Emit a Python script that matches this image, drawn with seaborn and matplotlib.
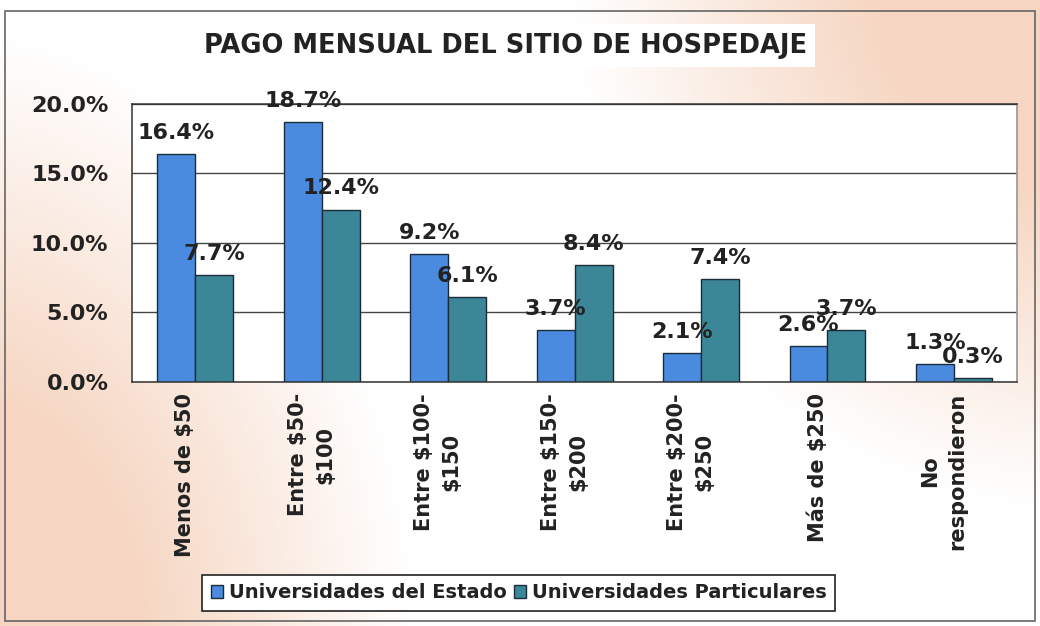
import matplotlib as mpl
mpl.use("Agg")

import matplotlib.pyplot as plt
import seaborn as sns
import pandas as pd
import numpy as np
from matplotlib.patches import Rectangle

sns.set_theme(style="white")
plt.rcParams["font.family"] = ["DejaVu Sans"]
plt.rcParams["font.weight"] = "bold"

categories = ["Menos de $50", "Entre $50-\n$100", "Entre $100-\n$150", "Entre $150-\n$200",
              "Entre $200-\n$250", "Más de $250", "No\nrespondieron"]
estado = [16.4, 18.7, 9.2, 3.7, 2.1, 2.6, 1.3]
particulares = [7.7, 12.4, 6.1, 8.4, 7.4, 3.7, 0.3]
series_names = ["Universidades del Estado", "Universidades Particulares"]
yticks = [0, 5, 10, 15, 20]

df = pd.concat([
    pd.DataFrame({"cat": categories, "valor": estado, "serie": series_names[0]}),
    pd.DataFrame({"cat": categories, "valor": particulares, "serie": series_names[1]}),
])

fig = plt.figure(figsize=(10.4, 6.26), dpi=100)

# peach / white background wash
bg = fig.add_axes([0, 0, 1, 1], zorder=-10)
gx, gy = np.meshgrid(np.linspace(0, 1, 300), np.linspace(1, 0, 200))
w1 = np.clip(1 - np.hypot((gx - 1.05) * 1.3, (gy - 1.05) * 0.75) / 0.65, 0, 1)
w2 = np.clip(1 - np.hypot((gx + 0.05) * 1.9, (gy + 0.05) * 0.85) / 0.85, 0, 1)
w = np.clip(np.maximum(w1, w2) * 1.7, 0, 1)[..., None]
peach = np.array([246, 214, 194]) / 255
img = (1 - w) * np.ones(3) + w * peach
bg.imshow(img, aspect="auto", extent=[0, 1, 0, 1])
bg.set_axis_off()
fig.add_artist(Rectangle((0.005, 0.008), 0.99, 0.975, transform=fig.transFigure,
                         fill=False, edgecolor="#666666", linewidth=1.2))

ax = fig.add_axes([0.127, 0.39, 0.851, 0.444])
ax.set_facecolor("white")
sns.barplot(data=df, x="cat", y="valor", hue="serie", ax=ax, width=0.6,
            palette=["#4A8BDF", "#3B8797"], edgecolor="#1c2b3a", linewidth=1, saturation=1)

for cont, vals in zip(ax.containers, [estado, particulares]):
    ax.bar_label(cont, labels=[f"{v:.1f}%" for v in vals], padding=8,
                 fontsize=16, fontweight="bold", color="#222222")

ax.set_ylim(0, 20)
ax.set_yticks(yticks)
ax.set_yticklabels([f"{v:.1f}%" for v in yticks], fontsize=16, fontweight="bold", color="#222222")
ax.set_xlim(-0.5, len(categories) - 0.5)
ax.set_xticks(np.arange(len(categories) + 1) - 0.5)
ax.set_xticklabels([])
for i, c in enumerate(categories):
    ax.text(i - 0.08, -0.04, c, transform=ax.get_xaxis_transform(), rotation=90,
            ha="center", va="top", multialignment="center", linespacing=1.45,
            fontsize=15, fontweight="bold", color="#222222")
ax.tick_params(axis="x", direction="out", length=5, color="#333333")
ax.tick_params(axis="y", direction="out", length=5, color="#333333", pad=12)
ax.yaxis.grid(True, color="#444444", linewidth=1)
ax.set_axisbelow(True)
for s in ["left", "bottom", "top"]:
    ax.spines[s].set_color("#333333")
    ax.spines[s].set_linewidth(1.1)
ax.spines["right"].set_color("#999999")
ax.set_xlabel("")
ax.set_ylabel("")

fig.text(0.486, 0.927, "PAGO MENSUAL DEL SITIO DE HOSPEDAJE", ha="center", va="center",
         fontsize=18.5, fontweight="bold", color="#222222",
         bbox=dict(facecolor="white", edgecolor="none", pad=6))

leg = ax.legend(loc="center", bbox_to_anchor=(0.437, -0.759), ncol=2, frameon=True,
                fontsize=14, handlelength=0.6, handleheight=0.6, handletextpad=0.3,
                columnspacing=0.4, borderpad=0.45, fancybox=False)
leg.get_frame().set_edgecolor("#222222")
leg.get_frame().set_linewidth(1.2)
leg.get_frame().set_facecolor("white")
leg.get_frame().set_alpha(1)
for t in leg.get_texts():
    t.set_fontweight("bold")
    t.set_color("#222222")

fig.savefig("out.png", dpi=100)
